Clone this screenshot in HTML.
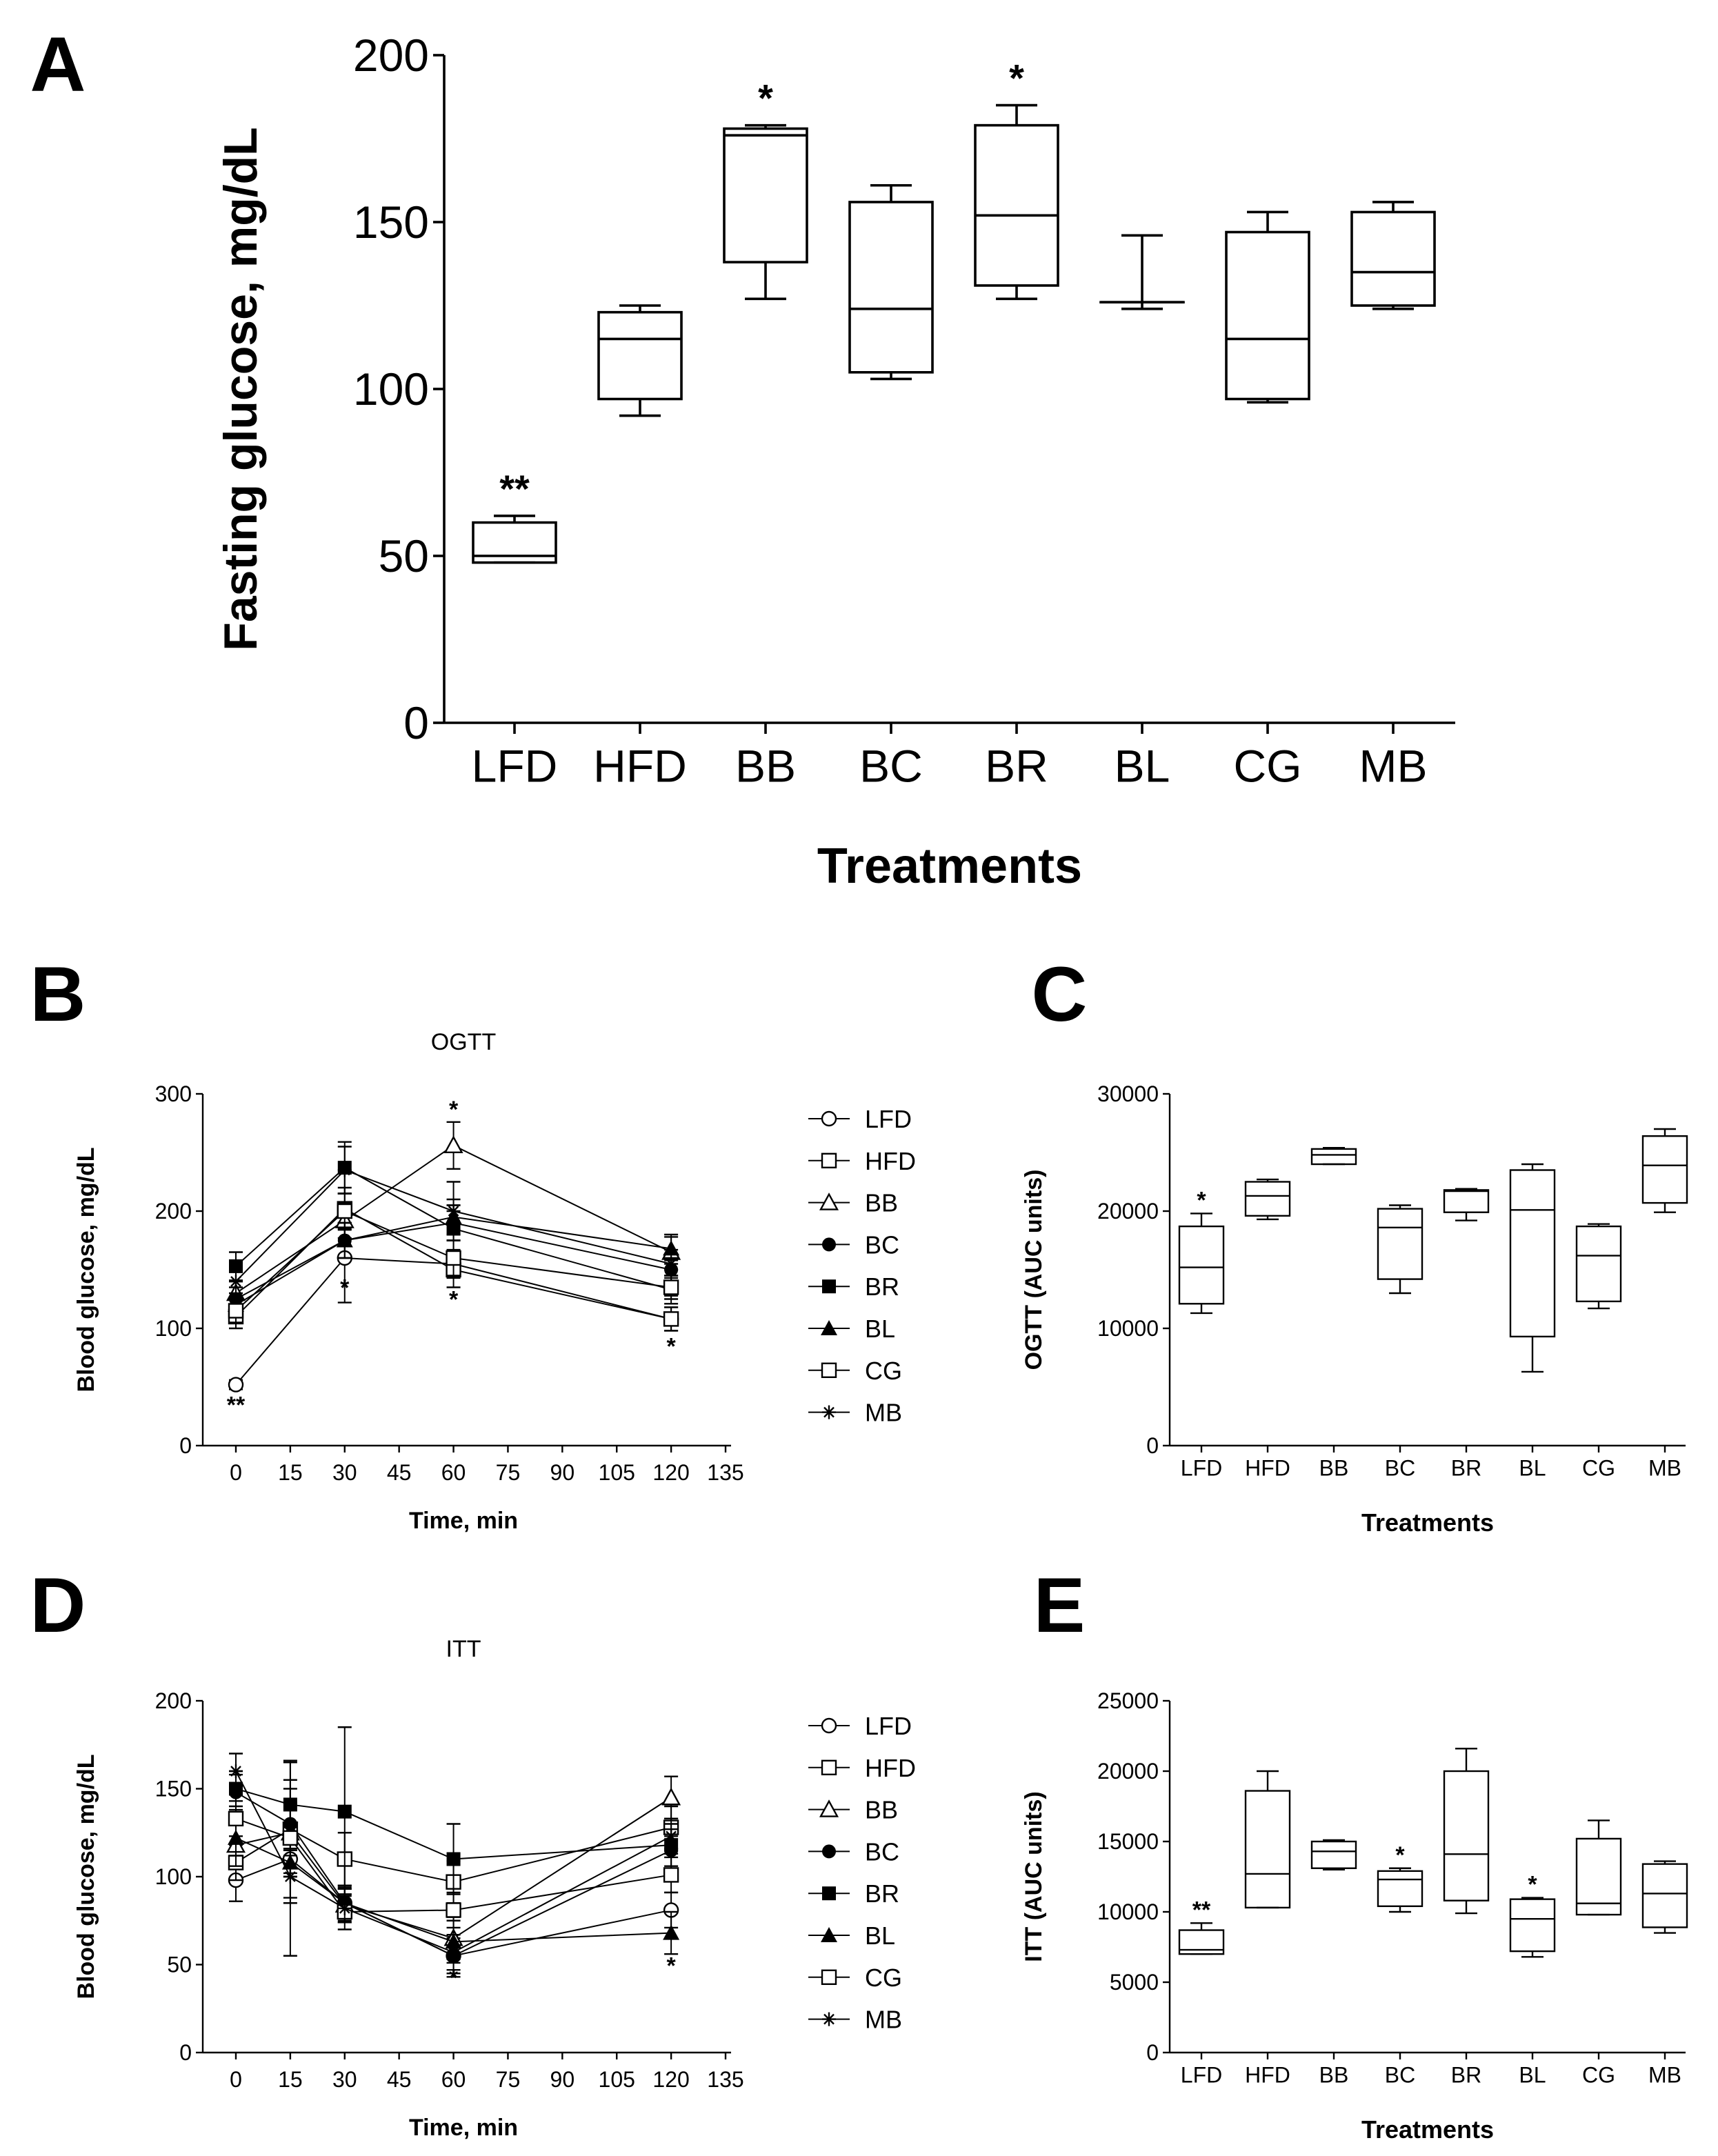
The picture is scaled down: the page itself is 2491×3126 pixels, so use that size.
<!DOCTYPE html>
<html><head><meta charset="utf-8">
<style>
html,body{margin:0;padding:0;background:#fff;}
svg{display:block;font-family:"Liberation Sans",Arial,sans-serif;}
</style></head>
<body>
<svg id="fig" width="2491" height="3126" viewBox="0 0 1245.5 1563" xmlns="http://www.w3.org/2000/svg"></svg>
<script>
// ---------- Panel A data ----------
const catsA = ["LFD","HFD","BB","BC","BR","BL","CG","MB"];
const aMax = [62,125,179,161,185,146,153,156];
const aQ3  = [60,123,178,156,179,126,147,153];
const aMed = [50,115,176,124,152,126,115,135];
const aQ1  = [48,97,138,105,131,126,97,125];
const aMin = [48,92,127,103,127,124,96,124];
const aStars = ["**","","*","","*","","",""];
const aTicks = [0,50,100,150,200];
// ---------- Panel C data ----------
const cMax = [19800,22700,25400,20500,21900,24000,18900,27000];
const cQ3  = [18700,22500,25300,20200,21800,23500,18700,26400];
const cMed = [15200,21300,24800,18600,21700,20100,16200,23900];
const cQ1  = [12100,19600,24000,14200,19900,9300,12300,20700];
const cMin = [11300,19300,24000,13000,19200,6300,11700,19900];
const cStars = ["*","","","","","","",""];
const cTicks = [0,10000,20000,30000];
// ---------- Panel E data ----------
const eMax = [9200,20000,15100,13100,21600,11000,16500,13600];
const eQ3  = [8700,18600,15000,12900,20000,10900,15200,13400];
const eMed = [7300,12700,14300,12300,14100,9500,10600,11300];
const eQ1  = [7000,10300,13100,10400,10800,7200,9800,8900];
const eMin = [7000,10300,13000,10000,9900,6800,9800,8500];
const eStars = ["**","","","*","","*","",""];
const eTicks = [0,5000,10000,15000,20000,25000];
// ---------- Panel B (OGTT) data ----------
const timesB = [0,30,60,120];
const ogttLFD = [52,160,155,108];
const ogttHFD = [110,202,150,108];
const ogttBB  = [130,192,256,165];
const ogttBC  = [125,175,190,150];
const ogttBR  = [153,237,185,133];
const ogttBL  = [120,175,195,168];
const ogttCG  = [115,200,160,135];
const ogttMB  = [140,235,200,155];
const ogttErrLFD = [4,38,12,10];
const ogttErrHFD = [10,18,15,10];
const ogttErrBB  = [10,15,20,15];
const ogttErrBC  = [10,15,15,10];
const ogttErrBR  = [12,22,20,12];
const ogttErrBL  = [10,15,15,10];
const ogttErrCG  = [10,15,15,10];
const ogttErrMB  = [15,20,25,12];
const bTicksY = [0,100,200,300];
// ---------- Panel D (ITT) data ----------
const timesD = [0,15,30,60,120];
const ittLFD = [98,110,85,55,81];
const ittHFD = [108,127,110,97,128];
const ittBB  = [118,125,84,65,145];
const ittBC  = [148,130,85,55,115];
const ittBR  = [150,141,137,110,118];
const ittBL  = [122,108,85,63,68];
const ittCG  = [133,122,80,81,101];
const ittMB  = [160,100,82,57,123];
const ittErrLFD = [12,55,8,10,10];
const ittErrHFD = [10,15,15,12,12];
const ittErrBB  = [12,25,10,12,12];
const ittErrBC  = [10,25,10,12,12];
const ittErrBR  = [10,25,48,20,12];
const ittErrBL  = [10,20,8,12,12];
const ittErrCG  = [10,20,10,10,10];
const ittErrMB  = [10,15,8,10,10];
const dTicksY = [0,50,100,150,200];
const timeTicks = [0,15,30,45,60,75,90,105,120,135];
const seriesNames = ["LFD","HFD","BB","BC","BR","BL","CG","MB"];

const NS="http://www.w3.org/2000/svg";
const svg=document.getElementById('fig');
function el(tag,attrs,parent){const e=document.createElementNS(NS,tag);for(const k in attrs)e.setAttribute(k,attrs[k]);(parent||svg).appendChild(e);return e;}
function line(x1,y1,x2,y2,w,p){return el('line',{x1,y1,x2,y2,stroke:'#000','stroke-width':w||1.3},p);}
function text(x,y,s,size,opt,p){opt=opt||{};const t=el('text',{x,y,'font-size':size,'text-anchor':opt.anchor||'middle','font-weight':opt.bold?'bold':'normal',fill:'#000'},p);if(opt.rot)t.setAttribute('transform',`rotate(-90 ${x} ${y})`);t.textContent=s;return t;}
function group(name){const g=el('g',{});return g;}

function boxPanel(cfg){
  const g=group(cfg.name);
  const ys=v=>cfg.y0+(cfg.y1-cfg.y0)*(v-cfg.vmin)/(cfg.vmax-cfg.vmin);
  const xs=i=>cfg.cx0+i*cfg.step;
  const ax=group(cfg.name+'-y-axis');g.appendChild(ax);
  line(cfg.axX,cfg.y0,cfg.axX,cfg.y1,cfg.lw,ax);
  cfg.ticks.forEach(t=>{const y=ys(t);line(cfg.axX-cfg.tl,y,cfg.axX,y,cfg.lw,ax);text(cfg.axX-cfg.tl-3,y+cfg.fs*0.35,String(t),cfg.fs,{anchor:'end'},ax);});
  const xa=group(cfg.name+'-x-axis');g.appendChild(xa);
  line(cfg.axX,cfg.y0,cfg.xEnd,cfg.y0,cfg.lw,xa);
  catsA.forEach((c,i)=>{line(xs(i),cfg.y0,xs(i),cfg.y0+cfg.tl,cfg.lw,xa);text(xs(i),cfg.y0+cfg.tl+cfg.fs*1.05,c,cfg.fs,{},xa);});
  cfg.max.forEach((_,i)=>{
    const b=group(cfg.name+'-box-'+catsA[i].toLowerCase());g.appendChild(b);
    const x=xs(i),hw=cfg.bw/2,cw=cfg.bw*0.25;
    line(x,ys(cfg.max[i]),x,ys(cfg.q3[i]),cfg.lw,b);
    line(x,ys(cfg.q1[i]),x,ys(cfg.min[i]),cfg.lw,b);
    line(x-cw,ys(cfg.max[i]),x+cw,ys(cfg.max[i]),cfg.lw,b);
    line(x-cw,ys(cfg.min[i]),x+cw,ys(cfg.min[i]),cfg.lw,b);
    el('rect',{x:x-hw,y:ys(cfg.q3[i]),width:cfg.bw,height:Math.max(0.01,ys(cfg.q1[i])-ys(cfg.q3[i])),fill:'none',stroke:'#000','stroke-width':cfg.lw},b);
    line(x-hw,ys(cfg.med[i]),x+hw,ys(cfg.med[i]),cfg.lw,b);
    if(cfg.stars[i]){const s=text(x,ys(cfg.max[i])-cfg.starGap,cfg.stars[i],cfg.starFs,{bold:true},b);}
  });
  const yt=text(cfg.ytX,(cfg.y0+cfg.y1)/2,cfg.ytitle,cfg.ytFs,{bold:true,rot:true},g);
  
  const xt=text((cfg.axX+cfg.xEnd)/2,cfg.xtY,'Treatments',cfg.xtFs,{bold:true},g);
  
}

boxPanel({name:'panel-a',y0:524,y1:40,vmin:0,vmax:200,axX:322,xEnd:1055,cx0:373,step:91,bw:60,lw:1.8,tl:8,fs:33,ticks:aTicks,
  max:aMax,q3:aQ3,med:aMed,q1:aQ1,min:aMin,stars:aStars,starGap:10,starFs:28,ytitle:'Fasting glucose, mg/dL',ytX:186,ytFs:34,xtY:640,xtFs:36});
boxPanel({name:'panel-c',y0:1048,y1:793,vmin:0,vmax:30000,axX:848,xEnd:1222,cx0:871,step:48,bw:32,lw:1.2,tl:5,fs:16,ticks:cTicks,
  max:cMax,q3:cQ3,med:cMed,q1:cQ1,min:cMin,stars:cStars,starGap:4,starFs:17,ytitle:'OGTT (AUC units)',ytX:755,ytFs:17,xtY:1110,xtFs:18});
boxPanel({name:'panel-e',y0:1488,y1:1233,vmin:0,vmax:25000,axX:848,xEnd:1222,cx0:871,step:48,bw:32,lw:1.2,tl:5,fs:16,ticks:eTicks,
  max:eMax,q3:eQ3,med:eMed,q1:eQ1,min:eMin,stars:eStars,starGap:4,starFs:17,ytitle:'ITT (AUC units)',ytX:755,ytFs:17,xtY:1550,xtFs:18});

function marker(kind,x,y,p){
  const r=5;
  switch(kind){
    case 'LFD': return el('circle',{cx:x,cy:y,r:r,fill:'#fff',stroke:'#000','stroke-width':1.2},p);
    case 'HFD': case 'CG': return el('rect',{x:x-r,y:y-r,width:2*r,height:2*r,fill:'#fff',stroke:'#000','stroke-width':1.2},p);
    case 'BB': return el('polygon',{points:`${x},${y-r-1} ${x+r+1},${y+r} ${x-r-1},${y+r}`,fill:'#fff',stroke:'#000','stroke-width':1.2},p);
    case 'BC': return el('circle',{cx:x,cy:y,r:r,fill:'#000'},p);
    case 'BR': return el('rect',{x:x-r,y:y-r,width:2*r,height:2*r,fill:'#000'},p);
    case 'BL': return el('polygon',{points:`${x},${y-r-1} ${x+r+1},${y+r} ${x-r-1},${y+r}`,fill:'#000'},p);
    case 'MB': {const g=el('g',{},p);line(x-r,y,x+r,y,1.2,g);line(x,y-r,x,y+r,1.2,g);line(x-r*0.7,y-r*0.7,x+r*0.7,y+r*0.7,1.2,g);line(x-r*0.7,y+r*0.7,x+r*0.7,y-r*0.7,1.2,g);return g;}
  }
}

function linePanel(cfg){
  const g=group(cfg.name);
  const xs=t=>171+(526-171)*t/135;
  const ys=v=>cfg.y0+(cfg.y1-cfg.y0)*v/cfg.vmax;
  const ax=group(cfg.name+'-y-axis');g.appendChild(ax);
  line(147,cfg.y0,147,cfg.y1,1.2,ax);
  cfg.ticks.forEach(t=>{const y=ys(t);line(142,y,147,y,1.2,ax);text(139,y+5.5,String(t),16,{anchor:'end'},ax);});
  const xa=group(cfg.name+'-x-axis');g.appendChild(xa);
  line(147,cfg.y0,530,cfg.y0,1.2,xa);
  timeTicks.forEach(t=>{line(xs(t),cfg.y0,xs(t),cfg.y0+5,1.2,xa);text(xs(t),cfg.y0+25,String(t),16,{},xa);});
  const yt=text(68,(cfg.y0+cfg.y1)/2,'Blood glucose, mg/dL',17,{bold:true,rot:true},g);
  
  const xt=text(336,cfg.y0+60,'Time, min',17,{bold:true},g);
  
  const tt=text(336,cfg.y1-32,cfg.title,17,{},g);
  
  cfg.series.forEach((vals,si)=>{
    const s=group(cfg.name+'-series-'+seriesNames[si].toLowerCase());g.appendChild(s);
    const errs=cfg.errs[si];
    vals.forEach((v,i)=>{
      const x=xs(cfg.times[i]),yt=ys(v+errs[i]),yb=ys(v-errs[i]);
      line(x,yt,x,yb,1,s);line(x-5,yt,x+5,yt,1.2,s);line(x-5,yb,x+5,yb,1.2,s);
    });
    el('polyline',{points:vals.map((v,i)=>xs(cfg.times[i])+','+ys(v)).join(' '),fill:'none',stroke:'#000','stroke-width':1},s);
    vals.forEach((v,i)=>marker(seriesNames[si],xs(cfg.times[i]),ys(v),s));
  });
  cfg.stars.forEach(st=>{const s=text(xs(st[0]),ys(st[1]),st[2],17,{bold:true},g);});
  const lg=group(cfg.name+'-legend');g.appendChild(lg);
  seriesNames.forEach((n,i)=>{
    const y=cfg.legY+i*30.4;
    const e=group('legend-entry-'+n.toLowerCase());lg.appendChild(e);
    line(586,y,616,y,1,e);marker(n,601,y,e);text(627,y+6.5,n,18,{anchor:'start'},e);
  });
}
linePanel({name:'panel-b',y0:1048,y1:793,vmax:300,ticks:bTicksY,times:timesB,title:'OGTT',legY:811,
  series:[ogttLFD,ogttHFD,ogttBB,ogttBC,ogttBR,ogttBL,ogttCG,ogttMB],
  errs:[ogttErrLFD,ogttErrHFD,ogttErrBB,ogttErrBC,ogttErrBR,ogttErrBL,ogttErrCG,ogttErrMB],
  stars:[[0,28,'**'],[30,128,'*'],[60,280,'*'],[60,118,'*'],[120,78,'*']]});
linePanel({name:'panel-d',y0:1488,y1:1233,vmax:200,ticks:dTicksY,times:timesD,title:'ITT',legY:1251,
  series:[ittLFD,ittHFD,ittBB,ittBC,ittBR,ittBL,ittCG,ittMB],
  errs:[ittErrLFD,ittErrHFD,ittErrBB,ittErrBC,ittErrBR,ittErrBL,ittErrCG,ittErrMB],
  stars:[[60,38,'*'],[120,45,'*']]});

[['A',42,66],['B',42,740],['C',768,740],['D',42,1183],['E',768,1183]].forEach(p=>{
  const t=text(p[1],p[2],p[0],56,{bold:true});
});
</script>
</body></html>
